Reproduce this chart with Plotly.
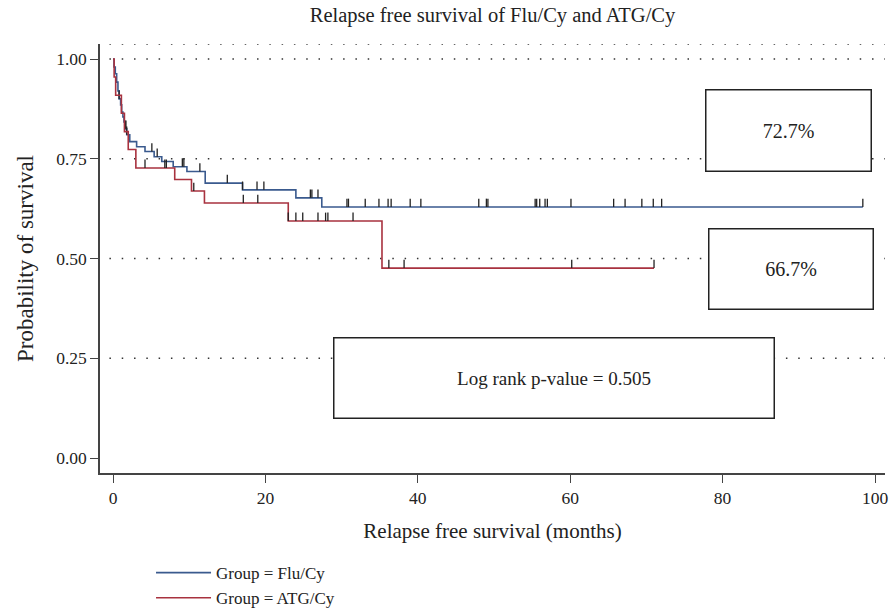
import plotly.graph_objects as go

# ---- Kaplan-Meier estimates (months, survival probability after each step) ----
flu_times = [0, 0.13, 0.3, 0.48, 0.65, 0.8, 1.0, 1.14, 1.3, 1.44, 1.6, 1.8, 2.2,
             3.1, 4.2, 5.4, 6.4, 7.9, 9.7, 12.1, 17.0, 24.0, 27.4]
flu_surv = [1.0, 0.98, 0.963, 0.942, 0.92, 0.90, 0.885, 0.867, 0.855, 0.842, 0.825,
            0.81, 0.793, 0.780, 0.768, 0.755, 0.743, 0.730, 0.718, 0.689, 0.672,
            0.652, 0.629]
flu_end = 98.4
flu_censored = [0.8, 1.6, 1.7, 1.8, 5.1, 5.8, 9.1, 9.3, 11.4, 15.0, 17.0, 18.9,
                19.8, 25.9, 26.1, 26.9, 30.7, 30.9, 33.1, 34.9, 36.1, 36.5, 39.0,
                40.4, 48.0, 49.0, 49.2, 55.4, 55.6, 56.0, 56.7, 57.0, 60.1, 65.7,
                67.2, 69.4, 70.9, 72.0, 98.4]

atg_times = [0, 0.15, 0.35, 1.1, 1.5, 2.0, 3.0, 8.1, 10.3, 12.0, 23.0, 35.3]
atg_surv = [1.0, 0.955, 0.909, 0.864, 0.818, 0.773, 0.727, 0.698, 0.669, 0.639,
            0.594, 0.476]
atg_end = 71.0
atg_censored = [4.2, 6.8, 7.0, 10.6, 17.1, 19.0, 23.0, 24.0, 24.9, 26.9, 27.9,
                28.2, 31.5, 36.2, 38.2, 60.2, 71.0]

groups = ["Flu/Cy", "ATG/Cy"]
colors = ["#3a5a8e", "#a8323f"]

box_labels = ["72.7%", "66.7%"]
logrank_p = 0.505

y_ticks = [0, 0.25, 0.5, 0.75, 1.0]
x_ticks = [0, 20, 40, 60, 80, 100]
grid_levels = [0.25, 0.5, 0.75, 1.0]

FONT = "Liberation Serif"
INK = "#222222"
TICK_H = 0.021  # height of a censor tick in survival units


def surv_at(t, times, surv):
    s = surv[0]
    for ti, si in zip(times, surv):
        if ti <= t:
            s = si
    return s


fig = go.Figure()

for name, col, times, surv, end, cens in [
    (groups[0], colors[0], flu_times, flu_surv, flu_end, flu_censored),
    (groups[1], colors[1], atg_times, atg_surv, atg_end, atg_censored),
]:
    fig.add_trace(go.Scatter(
        x=times + [end], y=surv + [surv[-1]],
        mode="lines", line=dict(color=col, width=1.6, shape="hv"),
        name=f"Group = {name}",
    ))
    xs, ys = [], []
    for c in cens:
        s = surv_at(c, times, surv)
        xs += [c, c, None]
        ys += [s, s + TICK_H, None]
    fig.add_trace(go.Scatter(
        x=xs, y=ys, mode="lines", line=dict(color=INK, width=1.3),
        showlegend=False, hoverinfo="skip",
    ))

# dotted reference lines
for g in grid_levels + [1.0376]:
    fig.add_shape(type="line", xref="paper", x0=0.012, x1=1.0, yref="y", y0=g, y1=g,
                  line=dict(color="#333333", width=1.5, dash="1.5px,10.8px"), layer="below")

box_style = dict(showarrow=False, bgcolor="white", bordercolor=INK,
                 borderwidth=1.5, borderpad=0)
fig.add_annotation(x=88.6, y=0.821, text=box_labels[0], width=164, height=80,
                   font=dict(family=FONT, size=20, color=INK), **box_style)
fig.add_annotation(x=89.0, y=0.4737, text=box_labels[1], width=163, height=79,
                   font=dict(family=FONT, size=20, color=INK), **box_style)
fig.add_annotation(x=57.9, y=0.2005, text=f"Log rank p-value = {logrank_p}",
                   width=439, height=79, font=dict(family=FONT, size=19, color=INK),
                   **box_style)

axis_common = dict(showgrid=False, zeroline=False, showline=True, linecolor="#444444",
                   linewidth=1.5, ticks="outside", ticklen=8, tickwidth=1.2,
                   tickcolor="#444444", tickfont=dict(family=FONT, size=17.5, color=INK))

fig.update_layout(
    width=893, height=612,
    margin=dict(l=100, r=8, t=44, b=139, autoexpand=False),
    paper_bgcolor="white", plot_bgcolor="white",
    font=dict(family=FONT, size=17, color=INK),
    title=dict(text="Relapse free survival of Flu/Cy and ATG/Cy", x=0.5, xref="paper",
               y=0.975, yanchor="middle", font=dict(family=FONT, size=20.5, color=INK)),
    xaxis=dict(range=[-1.706, 101.31], tickvals=x_ticks, automargin=False,
               title=dict(text="Relapse free survival (months)", standoff=17,
                          font=dict(family=FONT, size=21, color=INK)),
               **axis_common),
    yaxis=dict(range=[-0.0376, 1.0376], tickvals=y_ticks, automargin=False,
               ticktext=[f"{v:.2f}" for v in y_ticks],
               title=dict(text="Probability of survival", standoff=16,
                          font=dict(family=FONT, size=23, color=INK)),
               **axis_common),
    legend=dict(x=0.065, y=0.093, xref="paper", yref="container", xanchor="left",
                yanchor="top", tracegroupgap=0, itemwidth=55,
                font=dict(family=FONT, size=17, color=INK), bgcolor="rgba(0,0,0,0)"),
    showlegend=True,
)

fig.write_html("out.html")
